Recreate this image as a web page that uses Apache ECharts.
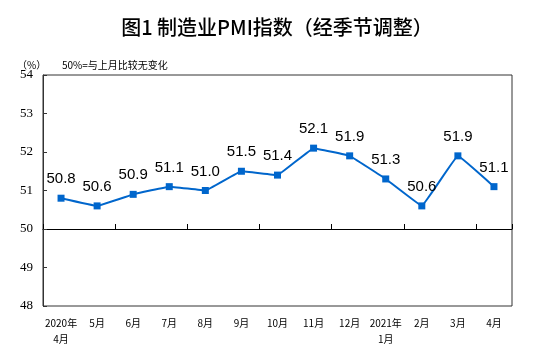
<!DOCTYPE html>
<html><head><meta charset="utf-8">
<script src="https://cdn.jsdelivr.net/npm/echarts@6/dist/echarts.min.js"></script>
<style>html,body{margin:0;padding:0;background:#fff}#c{width:554px;height:349px}</style>
</head><body><div id="c"></div>
<script>
const categories = ['2020年\n4月','5月','6月','7月','8月','9月','10月','11月','12月','2021年\n1月','2月','3月','4月'];
const pmiValues = [50.8, 50.6, 50.9, 51.1, 51.0, 51.5, 51.4, 52.1, 51.9, 51.3, 50.6, 51.9, 51.1];
const yMin = 48, yMax = 54, yInterval = 1, baseline = 50;

const chart = echarts.init(document.getElementById('c'), null, {renderer:'canvas'});
const gridTop = 75, gridBottom = 43, chartH = 349;
const plotH = chartH - gridTop - gridBottom;
const baseOffset = -plotH * (baseline - yMin) / (yMax - yMin);
chart.setOption({
  animation: false,
  title: [
    {text: '图1 制造业PMI指数（经季节调整）', left: 'center', top: 12,
     textStyle: {fontFamily: 'Noto Sans CJK SC', fontSize: 20, fontWeight: 500, color: '#000'}},
    {text: '（%）', left: 12, top: 55, textStyle: {fontFamily: 'Noto Sans CJK SC', fontSize: 10, fontWeight: 'normal', color: '#000'}},
    {text: '50%=与上月比较无变化', left: 57, top: 55, textStyle: {fontFamily: 'Noto Sans CJK SC', fontSize: 10, fontWeight: 'normal', color: '#000'}}
  ],
  grid: {left: 43, right: 42, top: gridTop, bottom: gridBottom, show: true, borderColor: '#333', borderWidth: 1, containLabel: false},
  xAxis: [
    {type: 'category', data: categories, position: 'bottom',
     axisLine: {show: false}, axisTick: {show: false},
     axisLabel: {fontFamily: 'Noto Sans CJK SC', fontSize: 10, color: '#000', margin: 9, lineHeight: 16, interval: 0}},
    {type: 'category', data: categories, position: 'bottom', offset: baseOffset,
     axisLine: {show: true, lineStyle: {color: '#000', width: 1}},
     axisTick: {show: true, inside: true, length: 5, alignWithLabel: false, lineStyle: {color: '#000'}},
     axisLabel: {show: false}}
  ],
  yAxis: {type: 'value', min: yMin, max: yMax, interval: yInterval,
    axisLine: {show: true, lineStyle: {color: '#333'}},
    axisTick: {show: true, inside: true, length: 4, lineStyle: {color: '#333'}},
    splitLine: {show: false},
    axisLabel: {fontFamily: 'Liberation Serif', fontSize: 13, color: '#000', margin: 10}},
  series: [{
    type: 'line', data: pmiValues, xAxisIndex: 0, smooth: 0.05,
    symbol: 'rect', symbolSize: 7,
    lineStyle: {color: '#0066CC', width: 2},
    itemStyle: {color: '#0066CC'},
    label: {show: true, position: 'top', distance: 8, fontFamily: 'Liberation Sans', fontSize: 15, color: '#000',
      formatter: p => p.value.toFixed(1)}
  }]
});
</script></body></html>
